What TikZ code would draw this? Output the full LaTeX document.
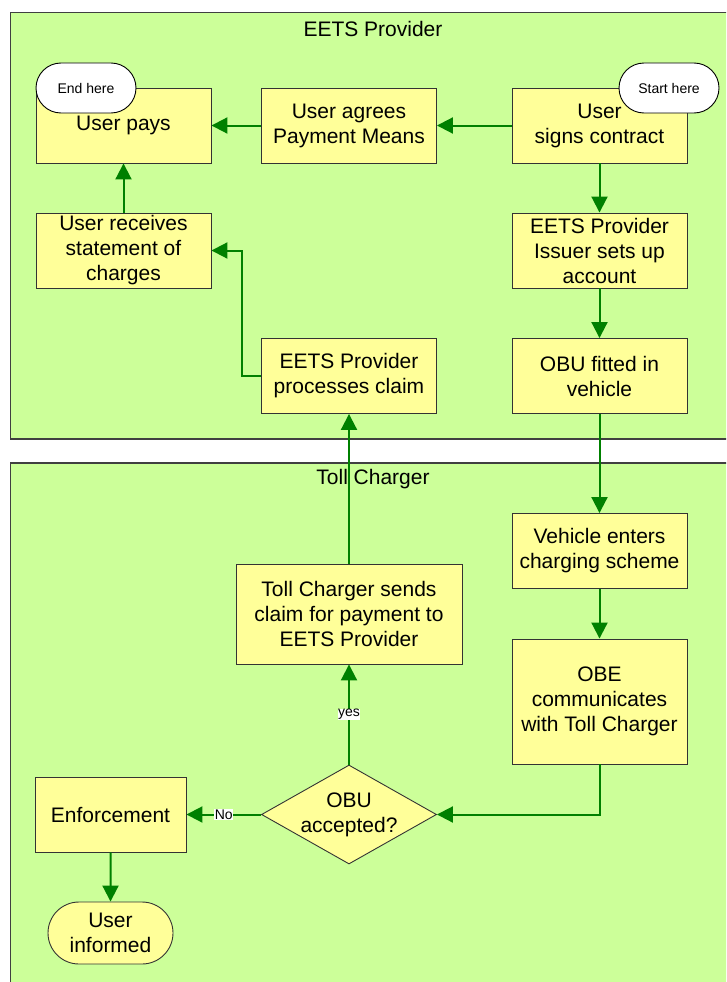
\documentclass[tikz,border=0pt]{standalone}
\usepackage{fontspec}
\setmainfont{Liberation Sans}
\usetikzlibrary{arrows.meta,shapes.geometric,shapes.misc}
\definecolor{lanegreen}{RGB}{204,255,153}
\definecolor{boxyellow}{RGB}{255,255,153}
\definecolor{flowgreen}{RGB}{0,128,0}
\tikzset{
	lane/.style={draw=black!75,fill=lanegreen,line width=1.2pt},
	stepbox/.style={draw=black!80,fill=boxyellow,line width=0.9pt,minimum width=175pt,minimum height=75pt,inner sep=0pt,align=center,font=\fontsize{21}{25}\selectfont},
	bubble/.style={draw=black,fill=white,rounded rectangle,line width=0.9pt,minimum width=100pt,minimum height=50pt,inner sep=0pt,font=\fontsize{14}{16}\selectfont},
	flow/.style={flowgreen,line width=2pt,-{Triangle[length=16pt,width=16pt]}},
	tag/.style={fill=white,text=black,inner sep=0.5pt,font=\fontsize{14}{16}\selectfont}
}
\begin{document}
\begin{tikzpicture}[x=1pt,y=-1pt]
\clip (0,0) rectangle (726,982);
\fill[white] (0,0) rectangle (726,982);

% lanes
\draw[lane] (10.7,12.7) rectangle (740,439);
\draw[lane] (10.7,463) rectangle (740,1000);
\path (373,29) node[font=\fontsize{21}{25}\selectfont](tprov){EETS Provider};
\path (373,479) node[font=\fontsize{21}{25}\selectfont](ttoll){Toll Charger};

% EETS Provider steps
\path (123.5,125.5) node[stepbox](pays){User pays};
\path (349,125.5) node[stepbox](agrees){User agrees\\Payment Means};
\path (599.5,125.5) node[stepbox](signs){User\\signs contract};
\path (123.5,250.5) node[stepbox](receives){User receives\\statement of\\charges};
\path (599.5,250.5) node[stepbox](issuer){EETS Provider\\Issuer sets up\\account};
\path (349,376) node[stepbox](processes){EETS Provider\\processes claim};
\path (599.5,376) node[stepbox](fitted){OBU fitted in\\vehicle};

% Toll Charger steps
\path (599.5,551) node[stepbox](enters){Vehicle enters\\charging scheme};
\path (349,614) node[stepbox,minimum width=226pt,minimum height=100pt](sends){Toll Charger sends\\claim for payment to\\EETS Provider};
\path (599.5,701.5) node[stepbox,minimum height=125pt](obe){OBE\\communicates\\with Toll Charger};
\path (349,814.5) node[stepbox,shape=diamond,aspect=1.77,minimum width=175pt,minimum height=99pt](check){OBU\\accepted?};
\path (110.5,814.5) node[stepbox,minimum width=151pt](enforce){Enforcement};
\path (110.5,933) node[stepbox,rounded rectangle,minimum width=125pt,minimum height=62pt](informed){User\\informed};

% start / end marks
\path (86,88) node[bubble](endmark){End here};
\path (669,88) node[bubble](startmark){Start here};

\draw[flow] (signs) -- (agrees);
\draw[flow] (agrees) -- (pays);
\draw[flow] (signs) -- (issuer);
\draw[flow] (issuer) -- (fitted);
\draw[flow] (fitted) -- (enters);
\draw[flow] (enters) -- (obe);
\draw[flow] (obe.south) |- (check.east);
\draw[flow] (check.north) -- node[tag]{yes} (sends.south);
\draw[flow] (check.west) -- node[tag]{No} (enforce.east);
\draw[flow] (enforce) -- (informed);
\draw[flow] (sends) -- (processes);
\draw[flow] (processes.west) -- ++(-19,0) |- (receives.east);
\draw[flow] (receives) -- (pays);

\end{tikzpicture}
\end{document}
